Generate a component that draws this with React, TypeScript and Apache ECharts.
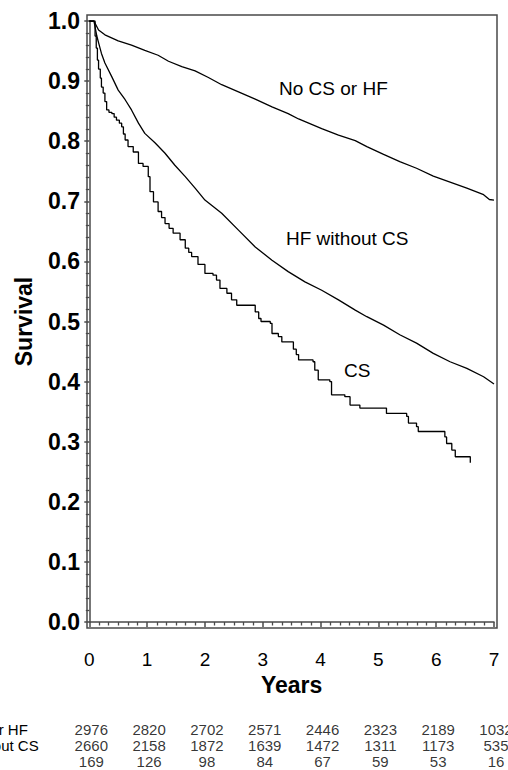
import React, { useEffect, useRef } from "react";
import * as echarts from "echarts";

// ---- data ----
const yearTicks = [0, 1, 2, 3, 4, 5, 6, 7];
const groupNames = ["No CS or HF", "HF without CS", "CS"];
const atRiskNoCS = [2976, 2820, 2702, 2571, 2446, 2323, 2189, 1032];
const atRiskHF = [2660, 2158, 1872, 1639, 1472, 1311, 1173, 535];
const atRiskCS = [169, 126, 98, 84, 67, 59, 53, 16];

const noCsTime = [0, 0.08, 0.16, 0.27, 0.5, 0.73, 0.96, 1.19, 1.37, 1.6, 1.83, 2.06, 2.29, 2.58, 2.87, 3.16, 3.44, 3.62, 4.02, 4.31, 4.6, 4.8, 5.09, 5.37, 5.66, 5.95, 6.24, 6.53, 6.82, 6.92, 7.0];
const noCsSurv = [1.0, 1.0, 0.985, 0.977, 0.967, 0.96, 0.951, 0.943, 0.933, 0.924, 0.917, 0.906, 0.894, 0.882, 0.87, 0.857, 0.846, 0.837, 0.821, 0.81, 0.801, 0.791, 0.778, 0.766, 0.755, 0.742, 0.732, 0.722, 0.711, 0.703, 0.702];

const hfTime = [0, 0.08, 0.13, 0.16, 0.21, 0.27, 0.39, 0.5, 0.62, 0.73, 0.85, 0.96, 1.14, 1.31, 1.48, 1.66, 1.83, 2.0, 2.29, 2.58, 2.87, 3.16, 3.44, 3.73, 4.02, 4.31, 4.6, 4.8, 5.09, 5.37, 5.66, 5.95, 6.24, 6.53, 6.82, 7.0];
const hfSurv = [1.0, 1.0, 0.975, 0.964, 0.946, 0.93, 0.907, 0.885, 0.869, 0.852, 0.83, 0.813, 0.797, 0.78, 0.76, 0.741, 0.722, 0.702, 0.68, 0.652, 0.624, 0.602, 0.583, 0.566, 0.552, 0.536, 0.519, 0.508, 0.494, 0.478, 0.464, 0.447, 0.433, 0.422, 0.408, 0.396];

const csTime = [0, 0.08, 0.1, 0.12, 0.14, 0.16, 0.19, 0.21, 0.24, 0.27, 0.3, 0.34, 0.39, 0.43, 0.47, 0.52, 0.56, 0.59, 0.62, 0.67, 0.76, 0.85, 0.93, 1.02, 1.05, 1.11, 1.19, 1.25, 1.31, 1.38, 1.45, 1.57, 1.66, 1.72, 1.77, 1.88, 2.0, 2.14, 2.2, 2.26, 2.38, 2.46, 2.55, 2.87, 2.93, 2.97, 3.13, 3.16, 3.27, 3.33, 3.53, 3.58, 3.62, 3.87, 3.9, 3.96, 4.16, 4.19, 4.42, 4.51, 4.68, 5.14, 5.49, 5.52, 5.66, 5.69, 6.15, 6.18, 6.27, 6.33, 6.36, 6.59];
const csSurv = [1.0, 1.0, 0.975, 0.955, 0.935, 0.92, 0.905, 0.89, 0.88, 0.866, 0.852, 0.848, 0.846, 0.84, 0.835, 0.83, 0.824, 0.812, 0.802, 0.791, 0.782, 0.763, 0.758, 0.741, 0.716, 0.699, 0.683, 0.673, 0.663, 0.655, 0.647, 0.636, 0.622, 0.615, 0.608, 0.595, 0.58, 0.577, 0.569, 0.555, 0.547, 0.536, 0.527, 0.516, 0.505, 0.5, 0.497, 0.48, 0.475, 0.466, 0.454, 0.445, 0.436, 0.433, 0.419, 0.403, 0.4, 0.378, 0.375, 0.361, 0.356, 0.347, 0.342, 0.331, 0.325, 0.317, 0.308, 0.297, 0.286, 0.275, 0.275, 0.265];

const FONT = "'Liberation Sans', Arial, Helvetica, sans-serif";

function pairs(t: number[], s: number[]) {
  return t.map((x, i) => [x, s[i]]);
}

export default function App() {
  const ref = useRef<HTMLDivElement>(null);

  useEffect(() => {
    if (!ref.current) return;
    const chart = echarts.init(ref.current, undefined, { renderer: "svg" });

    const riskRows = [atRiskNoCS, atRiskHF, atRiskCS];
    const riskData: any[] = [];
    riskRows.forEach((row, r) => {
      row.forEach((n, i) => riskData.push([yearTicks[i], r, n]));
    });

    const axisColor = "#4a4a4a";
    const lineStyle = { color: "#000", width: 1.3 };

    const tableTop = 722;
    const tableHeight = 47.5;
    const rowLabels = groupNames.map((name, r) => ({
      type: "text",
      x: -58,
      y: tableTop + (tableHeight / 3) * (r + 0.5),
      style: { text: name, fill: "#000", font: `15px ${FONT}`, textVerticalAlign: "middle" },
      silent: true,
    }));

    chart.setOption({
      animation: false,
      backgroundColor: "#fff",
      textStyle: { fontFamily: FONT },
      grid: [
        { left: 89.3, right: 14, top: 21, bottom: 148 },
        { left: 89.3, right: 14, top: tableTop, height: tableHeight },
      ],
      xAxis: [
        {
          type: "value",
          gridIndex: 0,
          min: 0,
          max: 7,
          interval: 1,
          offset: 6,
          axisLine: { show: true, lineStyle: { color: axisColor, width: 1.5 } },
          axisTick: { show: true, length: 5, lineStyle: { color: axisColor, width: 1.5 } },
          minorTick: { show: true, splitNumber: 6, length: 3.5, lineStyle: { color: axisColor, width: 1.3 } },
          splitLine: { show: false },
          axisLabel: { fontSize: 19, color: "#000", margin: 22, fontFamily: FONT },
          name: "Years",
          nameLocation: "middle",
          nameGap: 44,
          nameTextStyle: { fontSize: 23, fontWeight: "bold", color: "#000", fontFamily: FONT },
        },
        {
          type: "value",
          gridIndex: 1,
          min: 0,
          max: 7,
          show: false,
        },
      ],
      yAxis: [
        {
          type: "value",
          gridIndex: 0,
          min: 0,
          max: 1,
          interval: 0.1,
          offset: 2.3,
          axisLine: { show: true, lineStyle: { color: axisColor, width: 1.5 } },
          axisTick: { show: true, length: 5, lineStyle: { color: axisColor, width: 1.5 } },
          minorTick: { show: true, splitNumber: 5, length: 3.5, lineStyle: { color: axisColor, width: 1.3 } },
          splitLine: { show: false },
          axisLabel: {
            fontSize: 23,
            fontWeight: "bold",
            color: "#000",
            margin: 7,
            fontFamily: FONT,
            formatter: (v: number) => v.toFixed(1),
          },
          name: "Survival",
          nameLocation: "middle",
          nameRotate: 90,
          nameGap: 52,
          nameTextStyle: { fontSize: 23, fontWeight: "bold", color: "#000", fontFamily: FONT },
        },
        {
          type: "category",
          gridIndex: 1,
          data: groupNames,
          inverse: true,
          show: false,
        },
      ],
      graphic: [
        {
          type: "rect",
          shape: { x: 87, y: 15, width: 410, height: 613 },
          style: { fill: "none", stroke: axisColor, lineWidth: 1.5 },
          silent: true,
          z: 1,
        },
        {
          type: "text",
          x: 279,
          y: 88,
          style: { text: groupNames[0], fill: "#000", font: `19px ${FONT}`, textVerticalAlign: "middle" },
        },
        {
          type: "text",
          x: 286,
          y: 238,
          style: { text: groupNames[1], fill: "#000", font: `19px ${FONT}`, textVerticalAlign: "middle" },
        },
        {
          type: "text",
          x: 344,
          y: 370,
          style: { text: groupNames[2], fill: "#000", font: `19px ${FONT}`, textVerticalAlign: "middle" },
        },
        ...rowLabels,
      ],
      series: [
        {
          name: groupNames[0],
          type: "line",
          xAxisIndex: 0,
          yAxisIndex: 0,
          data: pairs(noCsTime, noCsSurv),
          showSymbol: false,
          lineStyle,
          clip: true,
        },
        {
          name: groupNames[1],
          type: "line",
          xAxisIndex: 0,
          yAxisIndex: 0,
          data: pairs(hfTime, hfSurv),
          showSymbol: false,
          lineStyle,
          clip: true,
        },
        {
          name: groupNames[2],
          type: "line",
          step: "end",
          xAxisIndex: 0,
          yAxisIndex: 0,
          data: pairs(csTime, csSurv),
          showSymbol: false,
          lineStyle,
          clip: true,
        },
        {
          name: "at risk",
          type: "scatter",
          xAxisIndex: 1,
          yAxisIndex: 1,
          data: riskData,
          symbolSize: 1,
          itemStyle: { color: "transparent" },
          label: {
            show: true,
            position: "inside",
            offset: [2, 0],
            fontSize: 15,
            color: "#000",
            fontFamily: FONT,
            formatter: (p: any) => String(p.value[2]),
          },
          clip: false,
        },
      ],
    });

    return () => chart.dispose();
  }, []);

  return (
    <div
      ref={ref}
      style={{ position: "fixed", left: 0, top: 0, width: 508, height: 770, background: "#fff" }}
    />
  );
}
